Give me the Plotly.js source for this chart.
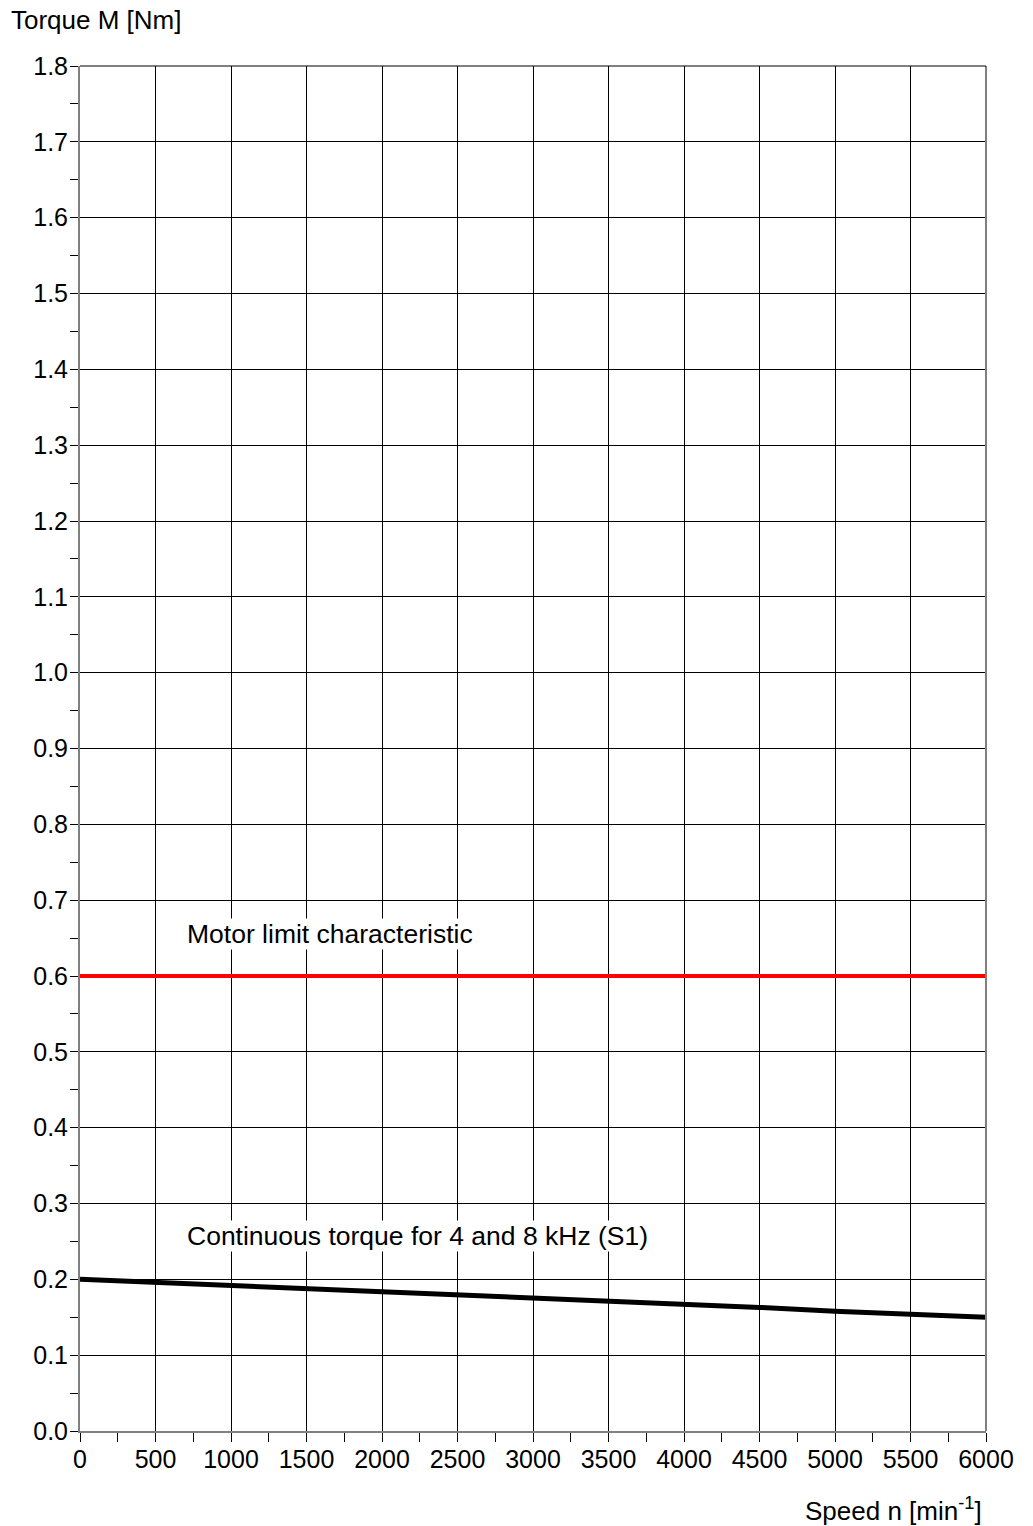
<!DOCTYPE html>
<html><head><meta charset="utf-8">
<script src="https://cdn.plot.ly/plotly-3.0.1.min.js"></script>
<style>body{margin:0;background:#fff}#c{width:1033px;height:1526px}</style>
</head><body><div id="c"></div>
<script>
const speed = [0, 500, 1000, 1500, 2000, 2500, 3000, 3500, 4000, 4500, 5000, 5500, 6000];
const motorLimit = [0.6, 0.6, 0.6, 0.6, 0.6, 0.6, 0.6, 0.6, 0.6, 0.6, 0.6, 0.6, 0.6];
const continuousTorque = [0.200, 0.196, 0.192, 0.188, 0.184, 0.180, 0.176, 0.171, 0.167, 0.163, 0.158, 0.154, 0.150];
const xTicks = [0, 500, 1000, 1500, 2000, 2500, 3000, 3500, 4000, 4500, 5000, 5500, 6000];
const yTicks = [0.0, 0.1, 0.2, 0.3, 0.4, 0.5, 0.6, 0.7, 0.8, 0.9, 1.0, 1.1, 1.2, 1.3, 1.4, 1.5, 1.6, 1.7, 1.8];
const labels = {
  limit: "Motor limit characteristic",
  cont: "Continuous torque for 4 and 8 kHz (S1)",
  y: "Torque M [Nm]",
  x: "Speed n [min<sup>-1</sup>]"
};
const F = "Liberation Sans, Arial, sans-serif";
const traces = [
  {x: speed, y: motorLimit, mode: "lines", line: {color: "#ff0000", width: 4}, hoverinfo: "skip"},
  {x: speed, y: continuousTorque, mode: "lines", line: {color: "#000000", width: 5}, hoverinfo: "skip"}
];
const layout = {
  width: 1033, height: 1526,
  margin: {l: 80, r: 47, t: 65.5, b: 94.5},
  showlegend: false,
  paper_bgcolor: "#fff", plot_bgcolor: "#fff",
  font: {family: F, size: 25, color: "#000"},
  xaxis: {
    range: [0, 6000], tickvals: xTicks, ticktext: xTicks.map(String),
    showgrid: true, gridcolor: "#000", gridwidth: 1,
    zeroline: false, showline: true, linecolor: "#808080", linewidth: 2,
    ticks: "outside", ticklen: 9, tickcolor: "#000", tickwidth: 1,
    minor: {dtick: 250, ticks: "outside", ticklen: 9, tickcolor: "#000", showgrid: false},
    tickfont: {family: F, size: 25}, ticklabelstandoff: -4, fixedrange: true
  },
  yaxis: {
    range: [0, 1.8], tickvals: yTicks, ticktext: yTicks.map(v => v.toFixed(1)),
    showgrid: true, gridcolor: "#000", gridwidth: 1,
    zeroline: false, showline: true, linecolor: "#808080", linewidth: 2,
    ticks: "outside", ticklen: 8, tickcolor: "#000", tickwidth: 1,
    minor: {dtick: 0.05, ticks: "outside", ticklen: 8, tickcolor: "#000", showgrid: false},
    tickfont: {family: F, size: 25}, ticklabelstandoff: -3, fixedrange: true
  },
  shapes: [
    {type: "line", xref: "paper", yref: "paper", x0: 1, x1: 1, y0: 0, y1: 1, line: {color: "#808080", width: 2}},
    {type: "line", xref: "paper", yref: "paper", x0: 0, x1: 1, y0: 1, y1: 1, line: {color: "#000", width: 1}}
  ],
  annotations: [
    {text: labels.limit, x: 700, y: 0.6345, xref: "x", yref: "y", xanchor: "left", yanchor: "bottom", showarrow: false, bgcolor: "#fff", borderpad: 0, font: {family: F, size: 26.5}},
    {text: labels.cont, x: 700, y: 0.2365, xref: "x", yref: "y", xanchor: "left", yanchor: "bottom", showarrow: false, bgcolor: "#fff", borderpad: 0, font: {family: F, size: 26.5}},
    {text: labels.y, x: -0.0773, y: 1.0223, xref: "paper", yref: "paper", xanchor: "left", yanchor: "bottom", showarrow: false, borderpad: 0, font: {family: F, size: 26}},
    {text: labels.x, x: 0.9967, y: -0.0575, xref: "paper", yref: "paper", xanchor: "right", yanchor: "middle", showarrow: false, borderpad: 0, font: {family: F, size: 26}}
  ]
};
Plotly.newPlot("c", traces, layout, {staticPlot: true, displayModeBar: false});
</script></body></html>
